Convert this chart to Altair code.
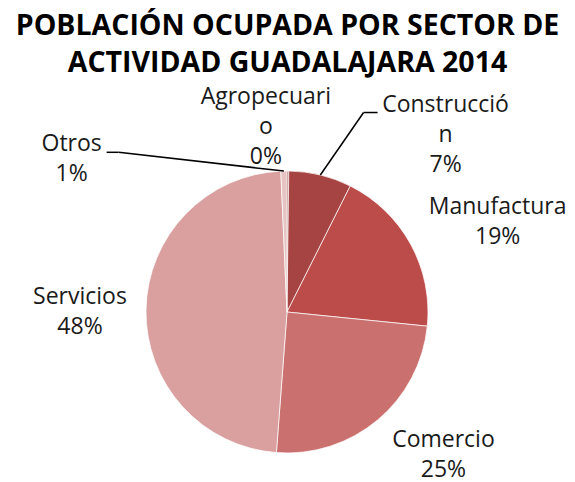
import altair as alt
import pandas as pd

# ---- data ----
categories = ["Agropecuario", "Construcción", "Manufactura", "Comercio", "Servicios", "Otros"]
values = [0.2, 7.2, 19.2, 24.6, 48.1, 0.7]
labels = ["Agropecuari\no\n0%", "Construcció\nn\n7%", "Manufactura\n19%", "Comercio\n25%",
          "Servicios\n48%", "Otros\n1%"]
title_lines = ["POBLACIÓN OCUPADA POR SECTOR DE", "ACTIVIDAD GUADALAJARA 2014"]

# ---- style ----
colors = ["#95393A", "#A54442", "#BC4C49", "#CA716F", "#D9A09F", "#E6C4C3"]
label_shift_deg = [-6.9, 28.1, 5.7, -7.6, -0.8, -53.4]
label_radius = [186, 238, 229, 212, 207, 264]
leader = [False, True, False, False, False, True]
leader_dx = [0, -68, 0, 0, 0, 35]
leader_dy = [0, -22, 0, 0, 0, -7]
leader_h = [0, -14, 0, 0, 0, 12]
LH = 30
n_lines = [lab.count("\n") + 1 for lab in labels]

W, H = 559, 474
CX, CY, R = 279, 304, 141
TX = 279.5

df = pd.DataFrame({
    "cat": categories, "value": values, "label": labels, "order": list(range(len(categories))),
    "shift": label_shift_deg, "lr": label_radius, "leader": leader,
    "ldx": leader_dx, "ldy": leader_dy, "lh": leader_h, "nl": n_lines,
})

base = alt.Chart(df).transform_joinaggregate(total="sum(value)").transform_window(
    cum="sum(value)", sort=[alt.SortField("order")], frame=[None, 0]
).transform_calculate(
    mid="(datum.cum - datum.value/2) / datum.total * 2 * PI"
).transform_calculate(
    la="datum.mid + datum.shift * PI / 180"
).transform_calculate(
    lx=f"{CX} + datum.lr * sin(datum.la)",
    ly=f"{CY} - datum.lr * cos(datum.la)",
    ax=f"{CX} + {R} * sin(datum.mid)",
    ay=f"{CY} - {R} * cos(datum.mid)",
).transform_calculate(
    ty=f"datum.ly - (datum.nl - 1) * {LH} / 2",
    ex="datum.lx + datum.ldx", ey="datum.ly + datum.ldy"
).transform_calculate(
    bx="datum.ex + datum.lh", by="datum.ey"
)

arcs = alt.Chart(df).mark_arc(radius=R, stroke="white", strokeWidth=0.7).encode(
    theta=alt.Theta("value:Q", stack=True),
    color=alt.Color("cat:N", scale=alt.Scale(domain=categories, range=colors), legend=None),
    order=alt.Order("order:Q"),
    x=alt.value(CX), y=alt.value(CY),
)

text = base.mark_text(font="Open Sans", fontSize=23, lineBreak="\n", lineHeight=LH,
                      align="center", baseline="middle", color="#1a1a1a").encode(
    x=alt.X("lx:Q", scale=None), y=alt.Y("ty:Q", scale=None), text="label:N"
)

lead1 = base.transform_filter("datum.leader").mark_rule(color="black", strokeWidth=1.5).encode(
    x=alt.X("ax:Q", scale=None), y=alt.Y("ay:Q", scale=None),
    x2="bx:Q", y2="by:Q",
)
lead2 = base.transform_filter("datum.leader").mark_rule(color="black", strokeWidth=1.5).encode(
    x=alt.X("bx:Q", scale=None), y=alt.Y("by:Q", scale=None),
    x2="ex:Q", y2="ey:Q",
)

title = alt.Chart(pd.DataFrame({"t": ["\n".join(title_lines)]})).mark_text(
    font="Open Sans", fontSize=28.5, fontWeight="bold", lineBreak="\n", lineHeight=37,
    align="center", baseline="alphabetic", color="black"
).encode(x=alt.value(TX), y=alt.value(26.5), text="t:N")

chart = alt.layer(arcs, lead1, lead2, text, title).properties(
    width=W, height=H, autosize=alt.AutoSizeParams(type="none"), padding=0
).configure_view(stroke=None)

chart.save("out.html", embed_options={"renderer": "svg", "actions": False})
